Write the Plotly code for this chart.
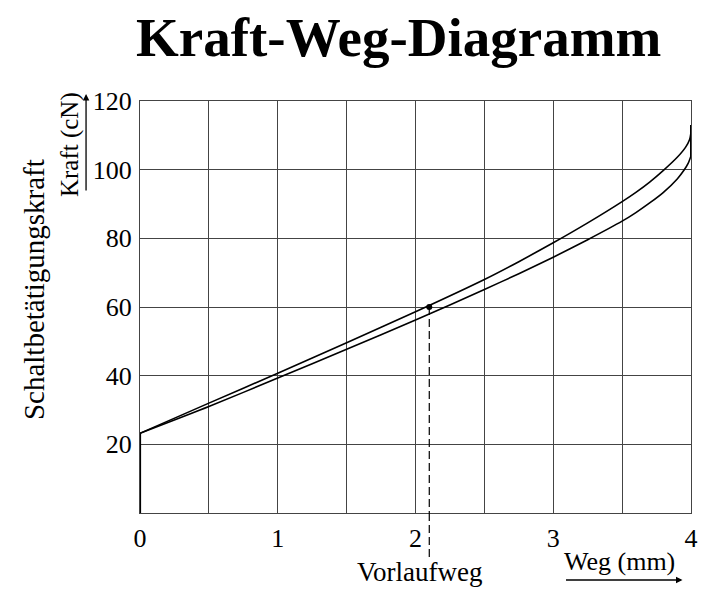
import plotly.graph_objects as go

# ---- data ----
weg_upper = [0, 0.5, 1.0, 1.5, 2.0, 2.5, 2.75, 3.0, 3.25, 3.5, 3.6, 3.7, 3.8, 3.9, 3.96, 3.99, 4.0]
kraft_upper = [23.2, 32.0, 40.7, 49.6, 58.6, 68.0, 73.2, 78.7, 84.5, 90.7, 93.4, 96.4, 99.8, 103.6, 106.5, 108.8, 110.8]
weg_lower = [0, 0.5, 1.0, 1.5, 2.0, 2.5, 2.75, 3.0, 3.25, 3.5, 3.6, 3.7, 3.8, 3.9, 3.95, 3.98, 4.0]
kraft_lower = [23.2, 31.0, 39.3, 47.7, 56.2, 65.1, 69.7, 74.5, 79.6, 85.0, 87.5, 90.3, 93.4, 97.3, 99.9, 101.9, 104.0]
rise_weg = [0, 0]          # initial vertical rise at x = 0
rise_kraft = [0, 23.2]
end_weg = [4, 4]           # closing vertical at x = 4
end_kraft = [104.0, 113.0]
vorlauf_weg = 2.1
vorlauf_kraft = 60

x_tickvals = [0, 0.5, 1, 1.5, 2, 2.5, 3, 3.5, 4]
x_ticktext = ["0", "", "1", "", "2", "", "3", "", "4"]
y_tickvals = [0, 20, 40, 60, 80, 100, 120]
y_ticktext = ["", "20", "40", "60", "80", "100", "120"]

W, H = 717, 593
L, R, T, B = 140, 25.5, 101, 80

def px(xp):
    return (xp - L) / (W - L - R)

def py(yp):
    return (H - B - yp) / (H - T - B)

serif = "Liberation Serif"
line_style = dict(color="black", width=1.6)

fig = go.Figure()
fig.add_trace(go.Scatter(x=weg_upper, y=kraft_upper, mode="lines",
                         line=dict(line_style, shape="spline", smoothing=0.6), hoverinfo="skip"))
fig.add_trace(go.Scatter(x=weg_lower, y=kraft_lower, mode="lines",
                         line=dict(line_style, shape="spline", smoothing=0.6), hoverinfo="skip"))
fig.add_trace(go.Scatter(x=rise_weg, y=rise_kraft, mode="lines",
                         line=dict(color="black", width=2.2), hoverinfo="skip"))
fig.add_trace(go.Scatter(x=end_weg, y=end_kraft, mode="lines",
                         line=dict(color="black", width=2.0), hoverinfo="skip"))
fig.add_trace(go.Scatter(x=[vorlauf_weg], y=[vorlauf_kraft], mode="markers",
                         marker=dict(color="black", size=6), hoverinfo="skip"))

# dashed line from point down below the axis
fig.add_shape(type="line", xref="x", yref="y", x0=vorlauf_weg, x1=vorlauf_weg,
              y0=vorlauf_kraft, y1=0, line=dict(color="black", width=1.2, dash="8px,4px"))
fig.add_shape(type="line", xref="x", yref="paper", x0=vorlauf_weg, x1=vorlauf_weg,
              y0=0, y1=py(557), line=dict(color="black", width=1.2, dash="8px,4px"))

annotations = [
    dict(text="<b>Kraft-Weg-Diagramm</b>", x=px(399), y=py(38), xref="paper", yref="paper",
         showarrow=False, font=dict(family=serif, size=55, color="black"),
         xanchor="center", yanchor="middle"),
    dict(text="Schaltbetätigungskraft", x=px(34), y=py(290), xref="paper", yref="paper",
         showarrow=False, textangle=-90, font=dict(family=serif, size=29, color="black"),
         xanchor="center", yanchor="middle"),
    dict(text="Kraft (cN)", x=px(70), y=py(145), xref="paper", yref="paper",
         showarrow=False, textangle=-90, font=dict(family=serif, size=25, color="black"),
         xanchor="center", yanchor="middle"),
    dict(text="Vorlaufweg", x=px(420), y=py(572), xref="paper", yref="paper",
         showarrow=False, font=dict(family=serif, size=27, color="black"),
         xanchor="center", yanchor="middle"),
    dict(text="Weg (mm)", x=px(620), y=py(561), xref="paper", yref="paper",
         showarrow=False, font=dict(family=serif, size=26, color="black"),
         xanchor="center", yanchor="middle"),
    # arrows
    dict(text="", x=px(86), y=py(94), xref="paper", yref="paper", showarrow=True,
         ax=0, ay=98, arrowhead=2, arrowsize=1, arrowwidth=1.3, arrowcolor="black"),
    dict(text="", x=px(683), y=py(580), xref="paper", yref="paper", showarrow=True,
         ax=-118, ay=0, arrowhead=2, arrowsize=1, arrowwidth=1.3, arrowcolor="black"),
]

fig.update_layout(
    width=W, height=H,
    margin=dict(l=L, r=R, t=T, b=B),
    paper_bgcolor="white", plot_bgcolor="white",
    showlegend=False,
    annotations=annotations,
    xaxis=dict(range=[0, 4], tickvals=x_tickvals, ticktext=x_ticktext,
               showgrid=True, gridcolor="#444", gridwidth=1, zeroline=False,
               showline=True, linecolor="#444", linewidth=1, mirror=True,
               ticks="", tickfont=dict(family=serif, size=26, color="black"),
               ticklabelstandoff=2),
    yaxis=dict(range=[0, 120], tickvals=y_tickvals, ticktext=y_ticktext,
               showgrid=True, gridcolor="#444", gridwidth=1, zeroline=False,
               showline=True, linecolor="#444", linewidth=1, mirror=True,
               ticks="", tickfont=dict(family=serif, size=26, color="black"),
               ticklabelstandoff=2),
)

fig.write_html("out.html", config={"displayModeBar": False},
               post_script="document.body.style.margin='0';document.body.style.overflow='hidden';")
